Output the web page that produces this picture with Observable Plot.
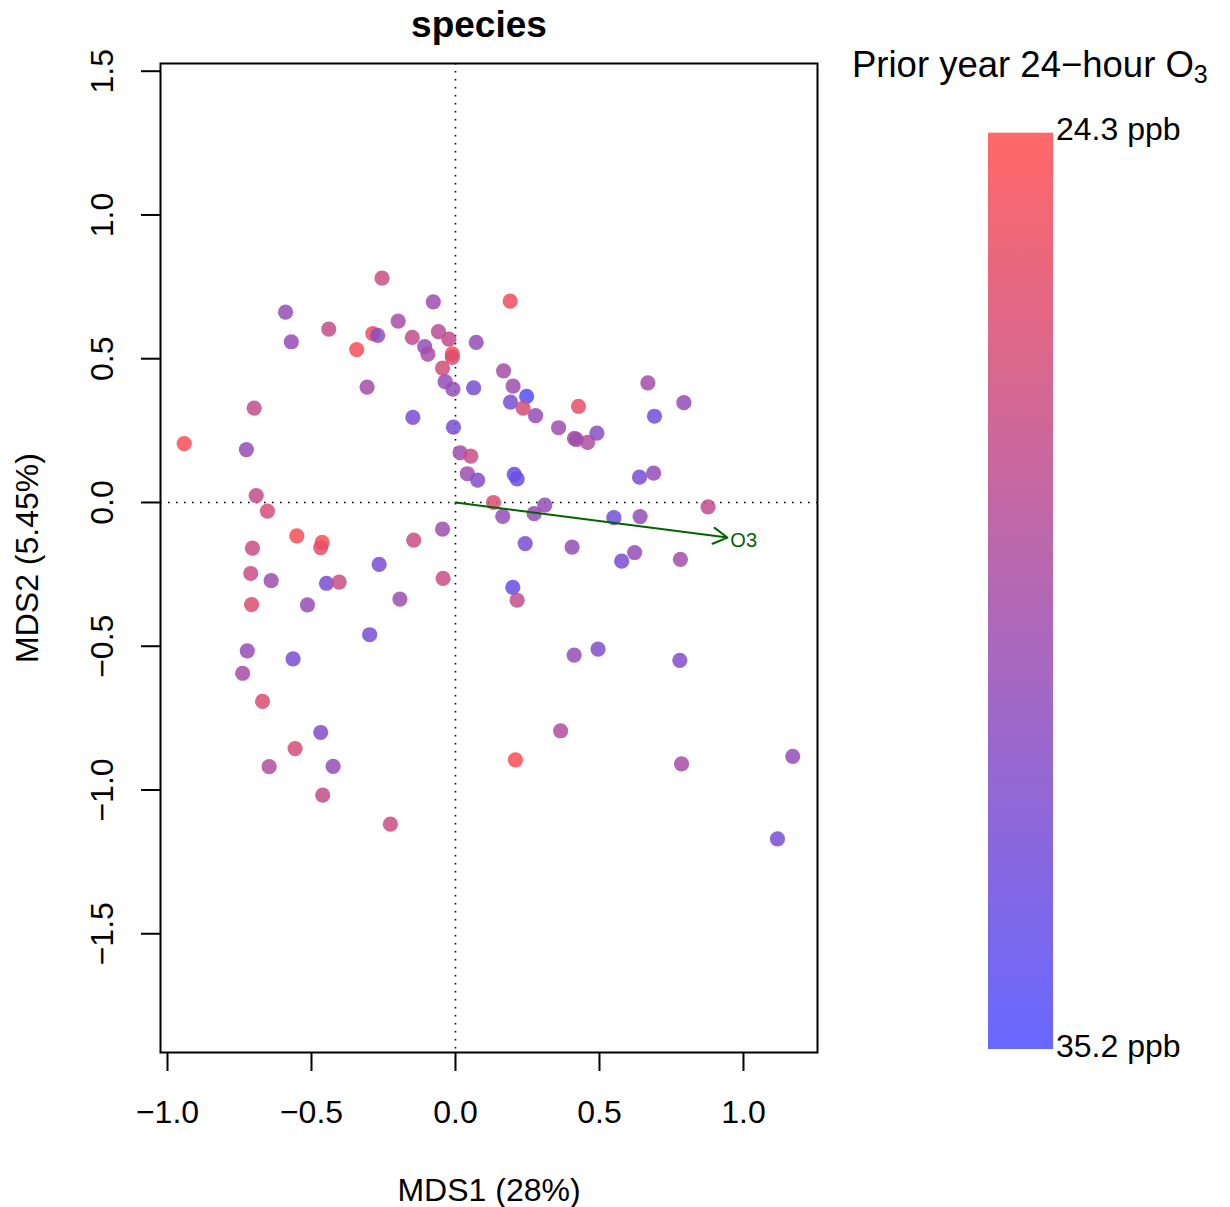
<!DOCTYPE html>
<html><head><meta charset="utf-8">
<script src="https://cdn.jsdelivr.net/npm/d3@7"></script>
<script src="https://cdn.jsdelivr.net/npm/@observablehq/plot@0.6"></script>
<style>
body{margin:0;background:#fff;font-family:"Liberation Sans",Arial,Helvetica,sans-serif;}
#wrap{position:relative;width:1230px;height:1207px;overflow:hidden;}
#wrap > svg{position:absolute;left:0;top:0;}
</style></head><body><div id="wrap"></div>
<script>
// Site scores (NMDS axes) and prior-year 24-hour O3 (ppb)
const mds1 = [-0.255,-0.590,-0.440,-0.287,-0.270,-0.343,-0.570,-0.307,-0.699,-0.942,
  -0.726,-0.692,-0.653,-0.077,0.190,-0.199,-0.150,-0.059,-0.023,-0.107,
  -0.096,-0.011,-0.011,0.072,-0.045,-0.036,-0.009,0.063,0.167,0.200,
  0.247,0.191,0.235,0.278,0.427,0.358,0.413,0.420,0.459,0.491,
  -0.148,-0.007,0.016,0.053,0.041,0.077,0.204,0.214,0.132,0.164,
  0.273,0.310,0.550,0.668,0.793,0.691,0.639,0.688,0.877,0.641,
  -0.551,-0.463,-0.468,-0.705,-0.265,-0.711,-0.640,-0.448,-0.404,-0.708,
  -0.514,-0.298,-0.723,-0.564,-0.739,-0.670,-0.045,-0.145,-0.043,-0.193,
  0.242,0.405,0.199,0.214,0.412,0.495,0.622,0.577,0.781,0.779,
  -0.468,-0.557,-0.647,-0.425,-0.461,-0.226,0.365,0.208,0.785,1.171,1.118];
const mds2 = [0.780,0.662,0.603,0.587,0.581,0.532,0.559,0.401,0.328,0.205,
  0.184,0.024,-0.030,0.698,0.700,0.631,0.574,0.594,0.568,0.542,
  0.516,0.517,0.505,0.557,0.467,0.420,0.394,0.399,0.458,0.405,
  0.369,0.349,0.328,0.302,0.334,0.260,0.223,0.219,0.209,0.241,
  0.296,0.262,0.173,0.161,0.100,0.078,0.098,0.082,0.000,-0.048,
  -0.039,-0.009,-0.053,0.416,0.347,0.300,0.088,0.102,-0.015,-0.049,
  -0.116,-0.139,-0.157,-0.159,-0.215,-0.247,-0.272,-0.281,-0.277,-0.355,
  -0.356,-0.460,-0.516,-0.544,-0.594,-0.692,-0.093,-0.131,-0.264,-0.336,
  -0.143,-0.155,-0.295,-0.340,-0.531,-0.510,-0.174,-0.204,-0.198,-0.549,
  -0.800,-0.856,-0.919,-0.918,-1.018,-1.119,-0.794,-0.895,-0.909,-0.883,-1.170];
const o3 = [27.6,30.8,28.1,25.4,31.4,24.8,30.8,29.8,28.1,24.8,
  30.8,28.1,27.0,30.3,25.4,29.8,28.1,28.7,28.1,30.8,
  29.8,24.8,26.5,30.8,27.0,30.8,30.8,32.5,29.8,30.3,
  34.7,32.5,27.0,30.8,25.9,30.3,29.8,30.3,29.2,31.4,
  32.5,32.5,30.3,27.6,30.3,31.9,33.6,33.6,26.5,30.8,
  30.8,30.8,33.0,29.8,30.8,33.0,32.5,30.8,28.1,30.8,
  24.8,24.8,25.9,27.6,32.5,27.6,30.3,32.5,27.6,26.5,
  30.8,32.5,30.8,32.5,29.8,26.5,30.3,27.6,27.6,30.3,
  32.5,30.8,33.6,28.1,30.8,31.9,30.8,32.5,29.8,31.9,
  31.9,27.0,29.2,30.8,28.1,27.6,29.2,24.8,29.8,30.8,32.5];
const o3Range = [24.3, 35.2];
const xTicks = [-1.0, -0.5, 0.0, 0.5, 1.0];
const yTicks = [-1.5, -1.0, -0.5, 0.0, 0.5, 1.0, 1.5];
const envVector = [{label: "O3", x0: 0, y0: 0, x: 0.944, y: -0.122}];
const titleText = "species";
const xLabel = "MDS1 (28%)";
const yLabel = "MDS2 (5.45%)";
const legendTitle = "Prior year 24\u2212hour O";
const legendSub = "3";

const sites = mds1.map((x, i) => ({x, y: mds2[i], o3: o3[i]}));
const fmt = d3.format(".1f");
const FONT = '"Liberation Sans", Arial, Helvetica, sans-serif';

const chart = Plot.plot({
  width: 1230, height: 1207,
  marginLeft: 160, marginRight: 413, marginTop: 63, marginBottom: 155,
  style: {fontFamily: FONT, background: "transparent", color: "black", overflow: "visible"},
  x: {domain: [-1.0243, 1.257]},
  y: {domain: [-1.913, 1.5268]},
  color: {type: "linear", domain: o3Range, range: ["#ff4d4d", "#4d4dff"], interpolate: "rgb"},
  marks: [
    Plot.ruleX([0], {stroke: "black", strokeWidth: 1.6, strokeDasharray: "1.6,6.4"}),
    Plot.ruleY([0], {stroke: "black", strokeWidth: 1.6, strokeDasharray: "1.6,6.4"}),
    Plot.dot(sites, {x: "x", y: "y", r: 7.6, fill: "o3", fillOpacity: 0.85, stroke: null}),
    Plot.arrow(envVector, {x1: "x0", y1: "y0", x2: "x", y2: "y", stroke: "#006400", strokeWidth: 2, headLength: 12, headAngle: 60}),
    Plot.text(envVector, {x: "x", y: "y", text: "label", fill: "#006400", fontSize: 20, textAnchor: "start", dx: 3, dy: 3}),
    Plot.frame({stroke: "black", strokeWidth: 2}),
    Plot.axisX(xTicks, {anchor: "bottom", tickSize: 19, tickPadding: 29, fontSize: 32, tickFormat: fmt, label: null, strokeWidth: 2}),
    Plot.axisY(yTicks, {anchor: "left", tickSize: 19, tickPadding: 29, tickRotate: -90, fontSize: 32, tickFormat: fmt, label: null, strokeWidth: 2}),
    Plot.text([titleText], {text: d => d, frameAnchor: "top", lineAnchor: "middle", dy: -38, dx: -10, fontSize: 37, fontWeight: "bold"}),
    Plot.text([xLabel], {text: d => d, frameAnchor: "bottom", lineAnchor: "middle", dy: 138, fontSize: 32}),
    Plot.text([yLabel], {text: d => d, frameAnchor: "left", textAnchor: "middle", lineAnchor: "middle", dx: -133, rotate: -90, fontSize: 32})
  ]
});
const wrap = document.getElementById("wrap");
wrap.appendChild(chart);

// Color legend (vertical gradient) built from the same color scale
const cs = chart.scale("color");
const c0 = d3.color(d3.interpolateRgb(cs.range[0], cs.range[1])(0));
const c1 = d3.color(d3.interpolateRgb(cs.range[0], cs.range[1])(1));
const leg = d3.create("svg").attr("width", 1230).attr("height", 1207)
  .style("font-family", FONT).style("pointer-events", "none");
const grad = leg.append("defs").append("linearGradient").attr("id", "o3grad")
  .attr("x1", 0).attr("y1", 0).attr("x2", 0).attr("y2", 1);
grad.append("stop").attr("offset", 0).attr("stop-color", c0.formatHex()).attr("stop-opacity", 0.85);
grad.append("stop").attr("offset", 1).attr("stop-color", c1.formatHex()).attr("stop-opacity", 0.85);
leg.append("rect").attr("x", 988).attr("y", 132.7).attr("width", 65).attr("height", 916.3).attr("fill", "url(#o3grad)");
const t = leg.append("text").attr("x", 852).attr("y", 77).attr("font-size", 36.5).text(legendTitle);
t.append("tspan").attr("font-size", 25).attr("dy", 6).text(legendSub);
leg.append("text").attr("x", 1056).attr("y", 140).attr("font-size", 32).text(`${o3Range[0]} ppb`);
leg.append("text").attr("x", 1056).attr("y", 1057).attr("font-size", 32).text(`${o3Range[1]} ppb`);
wrap.appendChild(leg.node());
</script>
</body></html>
